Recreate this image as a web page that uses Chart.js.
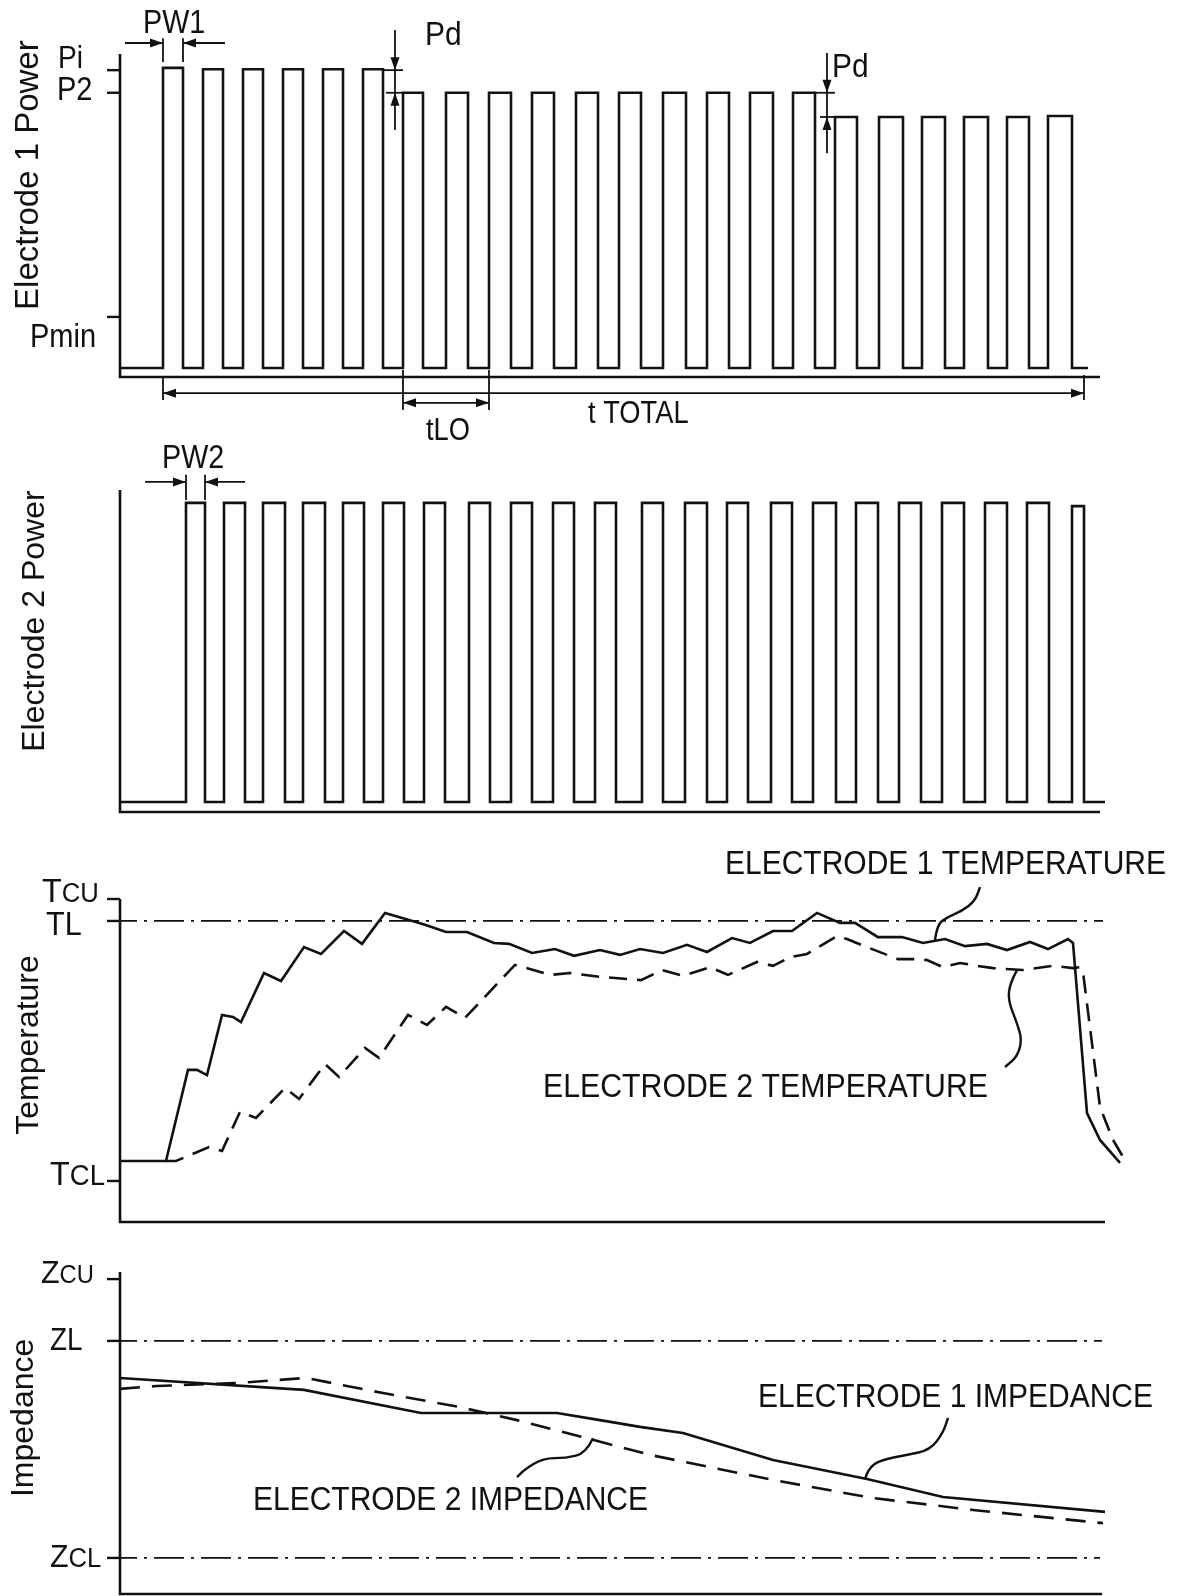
<!DOCTYPE html>
<html>
<head>
<meta charset="utf-8">
<title>Electrode power, temperature and impedance</title>
<script src="https://cdn.jsdelivr.net/npm/chart.js@4.4.1/dist/chart.umd.min.js"></script>
<style>
  html, body { margin: 0; padding: 0; background: #fff; }
  #page { position: relative; width: 1179px; height: 1596px; overflow: hidden; }
  canvas { position: absolute; left: 0; }
</style>
</head>
<body>
<div id="page">
  <canvas id="power1" width="1179" height="450" style="top:0px"></canvas>
  <canvas id="power2" width="1179" height="390" style="top:430px"></canvas>
  <canvas id="temp" width="1179" height="415" style="top:820px"></canvas>
  <canvas id="imped" width="1179" height="361" style="top:1235px"></canvas>
</div>
<script>
// time runs 0..98 (arbitrary units), every y axis 0..100 (arbitrary units)

// electrode 1 power pulses
const e1PulseOn    = [4.3, 8.3, 12.3, 16.3, 20.3, 24.3, 28.3, 32.6, 36.9, 41.2, 45.6, 49.9, 54.3, 58.7, 63.0, 67.3, 71.5, 75.9, 80.2, 84.4, 88.7, 92.8];
const e1PulseOff   = [6.3, 10.3, 14.3, 18.3, 22.3, 26.3, 30.3, 34.8, 39.1, 43.4, 47.8, 52.1, 56.6, 60.9, 65.3, 69.5, 73.7, 78.3, 82.5, 86.8, 90.9, 95.2];
const e1PulseLevel = [95.7, 95.3, 95.3, 95.3, 95.3, 95.3, 88, 88, 88, 88, 88, 88, 88, 88, 88, 88, 80.5, 80.5, 80.5, 80.5, 80.5, 80.8];
const e1Idle = 2.8;
const e1Stop = 96.8;
const powerTickNames  = ['Pi', 'P2', 'Pmin'];
const powerTickValues = [95, 88, 18.6];
const pdLevels = [95, 88, 80.5];

// electrode 2 power pulses
const e2PulseOn    = [6.6, 10.4, 14.3, 18.3, 22.3, 26.3, 30.4, 34.9, 39.1, 43.3, 47.5, 52.2, 56.5, 60.7, 65.1, 69.3, 73.6, 77.9, 82.2, 86.5, 90.7, 95.2];
const e2PulseOff   = [8.5, 12.5, 16.5, 20.5, 24.4, 28.4, 32.5, 37.0, 41.2, 45.4, 49.6, 54.3, 58.7, 62.8, 67.2, 71.6, 75.8, 80.1, 84.4, 88.7, 92.9, 96.4];
const e2PulseLevel = [96, 96, 96, 96, 96, 96, 96, 96, 96, 96, 96, 96, 96, 96, 96, 96, 96, 96, 96, 96, 96, 95];
const e2Idle = 3.1;
const e2Stop = 98.5;

// temperature
const tempTime1 = [0, 4.6, 6.8, 7.7, 8.7, 10.2, 11.3, 12.1, 14.4, 16.1, 18.4, 20.1, 22.4, 24.2, 26.5, 28.9, 30.5, 32.6, 34.7, 37.4, 38.9, 41.2, 43.5, 45.4, 48.0, 50.0, 52.0, 54.3, 56.7, 58.7, 61.2, 63.0, 65.3, 67.2, 69.7, 72.0, 73.5, 75.8, 78.2, 80.3, 82.5, 84.5, 86.7, 88.7, 91.0, 92.8, 94.8, 95.3, 96.7, 98.0, 100.0];
const tempE1    = [18.9, 18.9, 47.1, 47.1, 45.5, 64.1, 63.5, 61.9, 77.1, 74.6, 85.1, 83.0, 90.1, 86.1, 95.7, 93.5, 92.0, 89.8, 89.8, 86.4, 86.1, 83.3, 84.5, 82.4, 84.2, 82.7, 84.5, 83.3, 85.8, 83.6, 87.9, 86.4, 90.1, 90.1, 95.7, 92.6, 92.6, 88.2, 88.2, 86.4, 87.6, 85.4, 86.1, 84.2, 86.7, 84.5, 87.6, 86.4, 33.7, 25.4, 18.3];
const tempTime2 = [4.6, 5.6, 8.9, 10.2, 12.0, 13.6, 16.5, 17.9, 20.5, 21.9, 24.5, 25.9, 28.8, 30.7, 32.6, 34.5, 39.5, 43.1, 45.0, 48.0, 52.1, 54.2, 56.3, 59.0, 60.8, 63.7, 65.3, 67.0, 68.7, 71.7, 72.7, 74.7, 77.8, 79.3, 80.7, 82.3, 84.0, 85.7, 87.3, 90.3, 93.3, 95.3, 96.0, 96.3, 98.0, 99.3, 100.6];
const tempE2    = [18.9, 18.9, 23.2, 22.0, 34.1, 32.2, 41.5, 38.1, 48.9, 44.9, 53.9, 50.8, 64.1, 61.0, 66.6, 63.2, 79.6, 76.5, 77.1, 75.9, 74.9, 78.0, 76.2, 78.9, 76.5, 80.5, 79.3, 82.0, 83.0, 88.5, 87.6, 85.1, 81.4, 81.4, 81.1, 78.9, 80.2, 79.3, 78.6, 78.0, 79.3, 78.6, 78.9, 77.4, 35.6, 25.4, 18.6];
const tempTickValues = [100, 93.2, 12.7];  // TCU, TL, TCL

// impedance
const impTime1 = [0, 18.4, 30.1, 43.7, 48.0, 52.0, 56.3, 65.3, 74.7, 82.3, 98.5];
const impE1    = [67.1, 63.4, 56.2, 56.2, 54.0, 51.9, 50.0, 41.6, 35.7, 30.1, 25.5];
const impTime2 = [0, 3.7, 11.7, 18.6, 26.3, 33.9, 39.7, 46.2, 53.0, 65.3, 75.3, 85.3, 98.3];
const impE2    = [63.7, 64.6, 65.5, 67.1, 62.4, 58.1, 54.0, 48.8, 43.2, 35.4, 29.8, 26.1, 22.0];
const impTickValues = [97.8, 78.6, 11.2];  // ZCU, ZL, ZCL

const INK = '#111';
const FONT = '"Liberation Sans", Arial, sans-serif';

function pulseTrain(on, off, level, idle, stop) {
    const pts = [{x: 0, y: idle}];
    on.forEach((start, i) => {
        pts.push({x: start, y: idle}, {x: start, y: level[i]}, {x: off[i], y: level[i]}, {x: off[i], y: idle});
    });
    pts.push({x: stop, y: idle});
    return pts;
}

function zip(xs, ys) {
    return xs.map((x, i) => ({x: x, y: ys[i]}));
}

// small drawing kit working in data units through the chart's scales
function tools(chart) {
    const ctx = chart.ctx;
    const area = chart.chartArea;
    const X = v => chart.scales.x.getPixelForValue(v);
    const Y = v => chart.scales.y.getPixelForValue(v);
    const t = {
        axes(xEnd) {
            ctx.save();
            ctx.strokeStyle = INK;
            ctx.lineWidth = 2.6;
            ctx.beginPath();
            ctx.moveTo(area.left, area.top);
            ctx.lineTo(area.left, area.bottom);
            ctx.lineTo(X(xEnd), area.bottom);
            ctx.stroke();
            ctx.restore();
        },
        line(x1, y1, x2, y2, w, dash) {
            ctx.save();
            ctx.strokeStyle = INK;
            ctx.lineWidth = w || 2;
            ctx.setLineDash(dash || []);
            ctx.beginPath();
            ctx.moveTo(X(x1), Y(y1));
            ctx.lineTo(X(x2), Y(y2));
            ctx.stroke();
            ctx.restore();
        },
        tick(v) {
            t.line(-1.3, v, 0, v, 2.4);
        },
        ref(v, xEnd) {
            t.line(-1.3, v, xEnd, v, 1.8, [30, 7, 3, 7]);
        },
        arrow(x1, y1, x2, y2) {
            t.line(x1, y1, x2, y2, 1.8);
            const ax = X(x2), ay = Y(y2);
            const ang = Math.atan2(ay - Y(y1), ax - X(x1));
            ctx.save();
            ctx.fillStyle = INK;
            ctx.translate(ax, ay);
            ctx.rotate(ang);
            ctx.beginPath();
            ctx.moveTo(0, 0);
            ctx.lineTo(-13, -4.5);
            ctx.lineTo(-13, 4.5);
            ctx.closePath();
            ctx.fill();
            ctx.restore();
        },
        text(parts, x, y, opt) {
            opt = opt || {};
            ctx.save();
            ctx.fillStyle = INK;
            ctx.textBaseline = 'alphabetic';
            let total = 0;
            parts.forEach(p => {
                ctx.font = p[1] + 'px ' + FONT;
                total += ctx.measureText(p[0]).width;
            });
            const k = opt.width ? (X(x + opt.width) - X(x)) / total : (opt.squeeze || 0.88);
            ctx.translate(X(x), Y(y));
            ctx.scale(k, 1);
            let cx = 0;
            parts.forEach(p => {
                ctx.font = p[1] + 'px ' + FONT;
                ctx.fillText(p[0], cx, 0);
                cx += ctx.measureText(p[0]).width;
            });
            ctx.restore();
        },
        vtext(str, x, y, size) {
            ctx.save();
            ctx.fillStyle = INK;
            ctx.font = size + 'px ' + FONT;
            ctx.textAlign = 'center';
            ctx.textBaseline = 'alphabetic';
            ctx.translate(X(x), Y(y));
            ctx.rotate(-Math.PI / 2);
            ctx.fillText(str, 0, 0);
            ctx.restore();
        },
        leader(pts) {
            const p = pts.map(q => [X(q[0]), Y(q[1])]);
            ctx.save();
            ctx.strokeStyle = INK;
            ctx.lineWidth = 2.4;
            ctx.beginPath();
            ctx.moveTo(p[0][0], p[0][1]);
            for (let i = 1; i < p.length - 1; i++) {
                const mx = (p[i][0] + p[i + 1][0]) / 2;
                const my = (p[i][1] + p[i + 1][1]) / 2;
                ctx.quadraticCurveTo(p[i][0], p[i][1], mx, my);
            }
            const last = p[p.length - 1];
            ctx.lineTo(last[0], last[1]);
            ctx.stroke();
            ctx.restore();
        }
    };
    return t;
}

function series(data, dash) {
    return {
        data: data,
        borderColor: INK,
        borderWidth: 2.6,
        borderDash: dash || [],
        borderJoinStyle: 'miter',
        pointRadius: 0,
        fill: false,
        tension: 0,
        clip: false
    };
}

function makeChart(id, padTop, padBottom, datasets, decor) {
    return new Chart(document.getElementById(id), {
        type: 'line',
        data: { datasets: datasets },
        options: {
            responsive: false,
            animation: false,
            events: [],
            layout: { padding: { left: 120, right: 49, top: padTop, bottom: padBottom } },
            scales: {
                x: { type: 'linear', min: 0, max: 101, display: false },
                y: { type: 'linear', min: 0, max: 100, display: false }
            },
            plugins: { legend: { display: false }, tooltip: { enabled: false } }
        },
        plugins: [{ id: id + 'Decor', afterDraw: chart => decor(tools(chart)) }]
    });
}

document.addEventListener('DOMContentLoaded', function() {
    // Electrode 1 power
    makeChart('power1', 54, 73, [series(pulseTrain(e1PulseOn, e1PulseOff, e1PulseLevel, e1Idle, e1Stop))], function(t) {
        t.axes(98);
        powerTickValues.forEach(v => t.tick(v));
        t.text([[powerTickNames[0], 32]], -6.2, 95.7);
        t.text([[powerTickNames[1], 33]], -6.3, 85.8);
        t.text([[powerTickNames[2], 33]], -9.0, 9.3);
        t.vtext('Electrode 1 Power', -8.2, 62.5, 33);

        // PW1
        t.text([['PW1', 33]], 2.3, 106.5, { squeeze: 0.87 });
        t.line(e1PulseOn[0], 104.9, e1PulseOn[0], 97.5, 1.8);
        t.line(e1PulseOff[0], 104.9, e1PulseOff[0], 97.5, 1.8);
        t.arrow(0.5, 103.4, e1PulseOn[0], 103.4);
        t.arrow(10.5, 103.4, e1PulseOff[0], 103.4);

        // first Pd step
        t.line(26.4, pdLevels[0], 28.3, pdLevels[0], 1.8);
        t.line(26.6, pdLevels[1], 28.3, pdLevels[1], 1.8);
        t.arrow(27.5, 107.4, 27.5, pdLevels[0]);
        t.line(27.5, pdLevels[0], 27.5, pdLevels[1], 1.8);
        t.arrow(27.5, 76.5, 27.5, pdLevels[1]);
        t.text([['Pd', 34]], 30.5, 102.8);

        // second Pd step
        t.line(69.5, pdLevels[1], 71.5, pdLevels[1], 1.8);
        t.line(70.0, pdLevels[2], 71.5, pdLevels[2], 1.8);
        t.arrow(70.7, 100.3, 70.7, pdLevels[1]);
        t.line(70.7, pdLevels[1], 70.7, pdLevels[2], 1.8);
        t.arrow(70.7, 69.3, 70.7, pdLevels[2]);
        t.text([['Pd', 34]], 71.2, 92.9);

        // t TOTAL
        t.line(4.3, -0.3, 4.3, -7.1, 1.8);
        t.line(96.4, 0.6, 96.4, -7.1, 1.8);
        t.arrow(50, -5.0, 4.3, -5.0);
        t.arrow(50, -5.0, 96.4, -5.0);
        t.text([['t', 31], [' TOTAL', 31]], 46.8, -14.2);

        // tLO
        t.line(28.3, 2.2, 28.3, -10.2, 1.8);
        t.line(36.9, 2.2, 36.9, -10.2, 1.8);
        t.arrow(32.6, -8.0, 28.3, -8.0);
        t.arrow(32.6, -8.0, 36.9, -8.0);
        t.text([['t', 31], ['LO', 31]], 30.6, -19.5);
    });

    // Electrode 2 power
    makeChart('power2', 60, 8, [series(pulseTrain(e2PulseOn, e2PulseOff, e2PulseLevel, e2Idle, e2Stop))], function(t) {
        t.axes(98);
        t.vtext('Electrode 2 Power', -7.6, 59.3, 32);
        t.text([['PW2', 33]], 4.2, 106.8, { squeeze: 0.87 });
        t.line(e2PulseOn[0], 104.7, e2PulseOn[0], 96.9, 1.8);
        t.line(e2PulseOff[0], 104.7, e2PulseOff[0], 96.9, 1.8);
        t.arrow(2.5, 102.5, e2PulseOn[0], 102.5);
        t.arrow(12.5, 102.5, e2PulseOff[0], 102.5);
    });

    // Temperature
    makeChart('temp', 79, 13, [series(zip(tempTime1, tempE1)), series(zip(tempTime2, tempE2), [18, 10])], function(t) {
        t.axes(98.5);
        tempTickValues.forEach(v => t.tick(v));
        t.ref(tempTickValues[1], 98.3);
        t.text([['T', 34], ['CU', 27]], -7.8, 99.1, { squeeze: 0.95 });
        t.text([['T', 34], ['L', 34]], -7.4, 88.9, { squeeze: 0.9 });
        t.text([['T', 34], ['CL', 29]], -7.0, 11.5, { squeeze: 0.95 });
        t.vtext('Temperature', -8.2, 54.8, 32);

        t.text([['ELECTRODE 1 TEMPERATURE', 33]], 60.5, 107.7, { width: 44.1 });
        t.leader([[81.5, 87.3], [81.7, 92.0], [82.7, 94.4], [84.2, 96.3], [85.5, 99.4], [86.0, 103.7]]);
        t.text([['ELECTRODE 2 TEMPERATURE', 33]], 42.3, 38.7, { width: 44.5 });
        t.leader([[89.7, 78.0], [89.0, 74.0], [88.8, 68.7], [89.7, 61.6], [90.2, 56.3], [89.7, 51.1], [88.5, 48.0]]);
    });

    // Impedance
    makeChart('imped', 37, 2, [series(zip(impTime1, impE1)), series(zip(impTime2, impE2), [20, 12])], function(t) {
        t.axes(98.2);
        impTickValues.forEach(v => t.tick(v));
        t.ref(impTickValues[1], 98.2);
        t.ref(impTickValues[2], 98.0);
        t.text([['Z', 32], ['CU', 25]], -7.9, 96.6, { squeeze: 0.95 });
        t.text([['Z', 31], ['L', 31]], -7.0, 75.8, { squeeze: 0.9 });
        t.text([['Z', 32], ['CL', 27]], -7.0, 8.4, { squeeze: 0.95 });
        t.vtext('Impedance', -8.7, 54.7, 32);

        t.text([['ELECTRODE 1 IMPEDANCE', 33]], 63.8, 58.1, { width: 39.5 });
        t.leader([[74.5, 35.7], [74.8, 38.8], [76.0, 41.6], [78.7, 43.2], [81.0, 44.7], [82.3, 50.0], [82.8, 54.7]]);
        t.text([['ELECTRODE 2 IMPEDANCE', 33]], 13.3, 26.1, { width: 39.5 });
        t.leader([[47.3, 48.4], [46.6, 43.8], [44.6, 42.2], [42.3, 42.2], [40.4, 38.5], [39.7, 36.3]]);
    });
});
</script>
</body>
</html>
